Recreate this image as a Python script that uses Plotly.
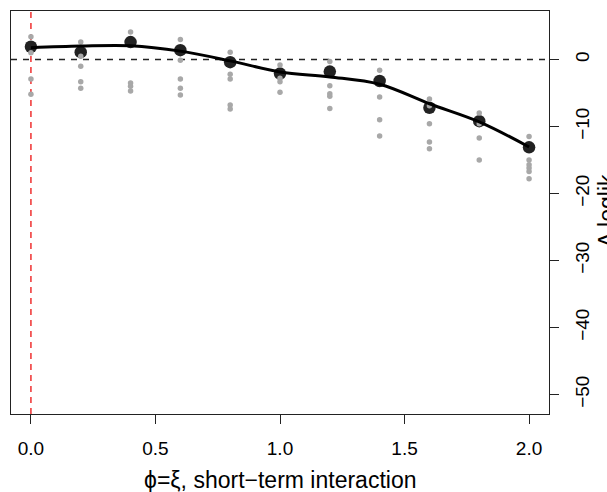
import plotly.graph_objects as go

# ---- data ----
x_levels = [0.0, 0.2, 0.4, 0.6, 0.8, 1.0, 1.2, 1.4, 1.6, 1.8, 2.0]

grey_values = [
    [3.4, 1.0, -2.9, -5.2],
    [2.6, 0.5, -1.0, -3.3, -4.3],
    [4.1, -3.5, -4.0, -4.7],
    [3.0, -0.1, -2.9, -4.3, -5.3],
    [1.1, -2.2, -2.9, -6.8, -7.4],
    [-0.8, -2.8, -3.3, -4.9],
    [-0.3, -3.9, -5.1, -5.5, -7.3],
    [-1.6, -5.6, -9.0, -11.4],
    [-5.9, -6.9, -9.6, -12.3, -13.3],
    [-8.0, -9.6, -11.7, -15.0],
    [-11.5, -15.0, -15.7, -16.2, -16.7, -17.8],
]

black_values = [1.9, 1.1, 2.6, 1.4, -0.4, -2.1, -1.8, -3.2, -7.2, -9.2, -13.1]

curve_values = [1.75, 2.0, 2.05, 1.25, -0.2, -1.85, -2.6, -3.7, -6.6, -9.3, -13.05]

x_ticks = [0.0, 0.5, 1.0, 1.5, 2.0]
x_ticktext = ["0.0", "0.5", "1.0", "1.5", "2.0"]
y_ticks = [-50, -40, -30, -20, -10, 0]
y_ticktext = ["\u221250", "\u221240", "\u221230", "\u221220", "\u221210", "0"]

ref_x = 0.0
ref_y = 0.0

x_title = "\u03d5=\u03be, short\u2212term interaction"
y_title = "\u0394 loglik"

# ---- build ----
gx, gy = [], []
for xv, vals in zip(x_levels, grey_values):
    for v in vals:
        gx.append(xv)
        gy.append(v)

FONT = "Liberation Sans, Arial, Helvetica, sans-serif"

fig = go.Figure()
fig.add_trace(go.Scatter(x=x_levels, y=black_values, mode="markers",
                         marker=dict(size=12.5, color="#222222"), hoverinfo="skip"))
fig.add_trace(go.Scatter(x=gx, y=gy, mode="markers",
                         marker=dict(size=5.5, color="#a8a8a8"), hoverinfo="skip"))
fig.add_trace(go.Scatter(x=x_levels, y=curve_values, mode="lines",
                         line=dict(color="black", width=3, shape="spline", smoothing=1.0),
                         hoverinfo="skip"))

fig.add_shape(type="line", xref="x", yref="paper", x0=ref_x, x1=ref_x, y0=0, y1=1,
              line=dict(color="#ee2222", width=1.4, dash="6px,5px"), layer="below")
fig.add_shape(type="line", xref="paper", yref="y", x0=0, x1=1, y0=ref_y, y1=ref_y,
              line=dict(color="#222222", width=1.3, dash="6px,6px"), layer="below")

fig.update_layout(
    width=607, height=492,
    margin=dict(l=11, r=58, t=11, b=78),
    paper_bgcolor="white", plot_bgcolor="white",
    showlegend=False,
    font=dict(family=FONT, color="black", size=19),
)
fig.update_xaxes(range=[-0.08, 2.08], tickvals=x_ticks, ticktext=x_ticktext,
                 showgrid=False, zeroline=False, showline=True, mirror=True,
                 linecolor="#222222", linewidth=1.2, ticks="outside", ticklen=9,
                 tickwidth=1, tickcolor="#222222", ticklabelstandoff=8,
                 tickfont=dict(size=19, family=FONT))
fig.update_yaxes(range=[-52.9, 7.24], tickvals=y_ticks, ticktext=y_ticktext,
                 side="right", tickangle=-90,
                 showgrid=False, zeroline=False, showline=True, mirror=True,
                 linecolor="#222222", linewidth=1.2, ticks="outside", ticklen=9,
                 tickwidth=1, tickcolor="#222222", ticklabelstandoff=7,
                 tickfont=dict(size=19, family=FONT))

fig.add_annotation(text=x_title, xref="paper", yref="paper", x=0.5, y=-0.1638,
                   xanchor="center", yanchor="middle", showarrow=False,
                   font=dict(size=23, family=FONT))
fig.add_annotation(text=y_title, xref="paper", yref="paper", x=1.108, y=0.503,
                   xanchor="center", yanchor="middle", showarrow=False, textangle=-90,
                   font=dict(size=23, family=FONT))

fig.write_html("out.html")
